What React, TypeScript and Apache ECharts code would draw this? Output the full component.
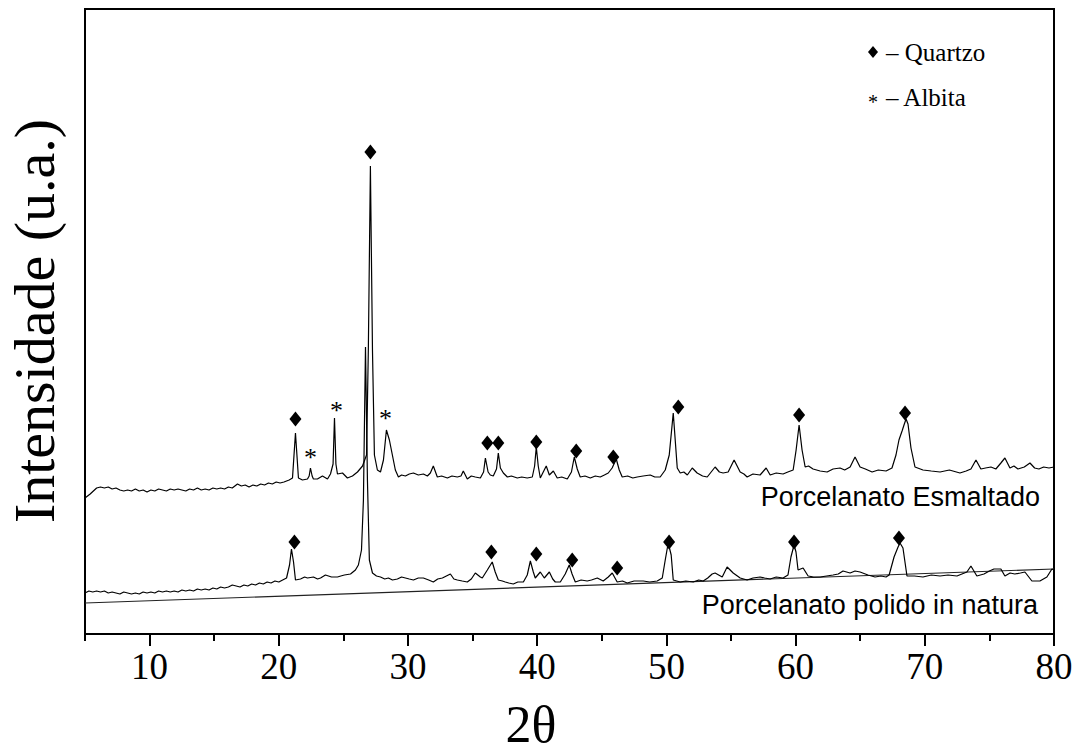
import React, { useEffect, useRef } from "react";
import * as echarts from "echarts";

// 2θ axis ticks
const xMajorTicks = [10, 20, 30, 40, 50, 60, 70, 80];
const xMinorTicks = [5, 15, 25, 35, 45, 55, 65, 75];

// Porcelanato Esmaltado pattern [2θ, intensity (a.u., offset)]
const esmaltado: [number, number][] = [
  [5.0, 136], [5.4, 140], [5.9, 146], [6.2, 147], [6.5, 146], [6.8, 147], [7.1, 145], [7.4, 146],
  [7.7, 144], [8.0, 143], [8.3, 144], [8.6, 143], [8.9, 145], [9.2, 143], [9.5, 144], [9.8, 142],
  [10.1, 144], [10.4, 143], [10.7, 145], [11.0, 144], [11.3, 143], [11.6, 145], [11.9, 144], [12.2, 145],
  [12.5, 144], [12.8, 143], [13.1, 145], [13.4, 144], [13.7, 146], [14.0, 144], [14.3, 145], [14.6, 144],
  [14.9, 146], [15.2, 145], [15.5, 146], [15.8, 145], [16.1, 147], [16.4, 146], [16.8, 150], [17.1, 148],
  [17.4, 149], [17.7, 147], [18.0, 149], [18.3, 148], [18.6, 150], [18.9, 149], [19.2, 151], [19.5, 150],
  [19.8, 152], [20.1, 151], [20.4, 152], [20.8, 154], [21.06, 156], [21.29, 201], [21.52, 156], [21.83, 154],
  [22.22, 155], [22.35, 158], [22.45, 166], [22.58, 158], [22.68, 155], [22.99, 155], [23.38, 158], [23.77, 155],
  [24.0, 160], [24.2, 170], [24.31, 216], [24.42, 170], [24.54, 160], [24.93, 161], [25.31, 156], [25.7, 158],
  [26.09, 162], [26.48, 168], [26.79, 179], [26.93, 284], [27.09, 468], [27.25, 284], [27.4, 179], [27.63, 164],
  [27.87, 162], [28.1, 174], [28.33, 204], [28.56, 194], [28.79, 179], [29.02, 164], [29.26, 157], [29.5, 159],
  [29.8, 158], [30.1, 160], [30.42, 161], [30.8, 159], [31.19, 160], [31.5, 158], [31.73, 161], [31.96, 168],
  [32.27, 157], [32.6, 158], [33.05, 156], [33.4, 158], [33.82, 157], [34.1, 158], [34.28, 163], [34.59, 155],
  [34.9, 158], [35.21, 157], [35.6, 156], [35.85, 162], [35.99, 176], [36.2, 162], [36.37, 159], [36.6, 158],
  [36.85, 165], [36.99, 181], [37.15, 166], [37.38, 161], [37.69, 157], [38.0, 158], [38.46, 156], [38.8, 157],
  [39.23, 156], [39.62, 157], [39.8, 168], [39.93, 187], [40.08, 168], [40.24, 156], [40.7, 168], [40.94, 159],
  [41.25, 163], [41.55, 156], [41.9, 157], [42.33, 155], [42.65, 162], [42.87, 177], [43.1, 165], [43.33, 157],
  [43.7, 158], [44.11, 156], [44.5, 158], [44.88, 157], [45.2, 159], [45.5, 161], [45.8, 166], [46.12, 175],
  [46.35, 164], [46.58, 157], [47.0, 158], [47.4, 156], [47.74, 157], [48.2, 158], [48.75, 159], [49.1, 157],
  [49.52, 157], [49.91, 164], [50.22, 179], [50.53, 221], [50.84, 166], [51.07, 161], [51.35, 162], [51.62, 159],
  [52.0, 166], [52.38, 161], [52.8, 158], [53.16, 157], [53.77, 167], [54.1, 162], [54.39, 161], [54.78, 162],
  [55.24, 174], [55.71, 162], [56.0, 160], [56.25, 157], [56.7, 160], [57.25, 159], [57.72, 166], [58.03, 159],
  [58.5, 161], [59.03, 160], [59.4, 162], [59.81, 164], [60.04, 184], [60.27, 209], [60.5, 184], [60.74, 167],
  [61.0, 168], [61.35, 165], [61.9, 163], [62.44, 162], [62.9, 165], [63.44, 166], [63.8, 164], [64.22, 167],
  [64.6, 177], [64.99, 167], [65.4, 165], [65.92, 162], [66.4, 164], [67.0, 163], [67.46, 166], [67.77, 179],
  [68.0, 194], [68.24, 203], [68.39, 209], [68.55, 215], [68.7, 210], [68.93, 186], [69.24, 167], [69.86, 164],
  [70.5, 163], [71.18, 162], [71.9, 164], [72.72, 161], [73.2, 163], [73.57, 165], [73.96, 174], [74.34, 165],
  [74.7, 166], [75.12, 167], [75.5, 165], [75.89, 171], [76.2, 176], [76.59, 166], [76.9, 168], [77.21, 165],
  [77.7, 167], [78.14, 171], [78.5, 166], [78.83, 165], [79.2, 167], [79.61, 166], [80.0, 167],
];

// Porcelanato polido in natura pattern [2θ, intensity (a.u.)]
const polido: [number, number][] = [
  [5.0, 41], [5.3, 43], [5.6, 42], [5.9, 43], [6.2, 42], [6.5, 43], [6.8, 41], [7.1, 42], [7.4, 41],
  [7.7, 40], [8.0, 42], [8.3, 41], [8.6, 40], [8.9, 41], [9.2, 40], [9.5, 42], [9.8, 41], [10.1, 42],
  [10.4, 41], [10.7, 43], [11.0, 42], [11.3, 43], [11.6, 42], [11.9, 43], [12.2, 42], [12.5, 44], [12.8, 43],
  [13.1, 44], [13.4, 43], [13.7, 45], [14.0, 44], [14.3, 45], [14.6, 44], [14.9, 46], [15.2, 45], [15.5, 47],
  [15.8, 46], [16.1, 47], [16.4, 49], [16.7, 48], [17.0, 47], [17.3, 49], [17.6, 48], [17.9, 50], [18.2, 49],
  [18.5, 51], [18.8, 50], [19.1, 52], [19.4, 51], [19.7, 53], [20.0, 52], [20.3, 54], [20.6, 56], [20.83, 69],
  [20.98, 85], [21.14, 72], [21.29, 54], [21.68, 55], [22.0, 57], [22.22, 56], [22.68, 57], [23.0, 55],
  [23.23, 56], [23.61, 59], [24.08, 57], [24.54, 57], [24.8, 58], [25.08, 59], [25.55, 60], [25.93, 64],
  [26.16, 69], [26.4, 84], [26.55, 134], [26.71, 287], [26.86, 154], [27.01, 74], [27.25, 61], [27.56, 58],
  [27.87, 57], [28.2, 55], [28.48, 56], [28.8, 54], [29.18, 55], [29.5, 57], [29.8, 56], [30.1, 55],
  [30.42, 54], [30.8, 56], [31.19, 56], [31.6, 54], [31.96, 52], [32.3, 55], [32.66, 56], [33.28, 60],
  [33.55, 55], [33.82, 54], [34.2, 53], [34.59, 52], [34.9, 55], [35.21, 61], [35.6, 57], [35.75, 56],
  [36.14, 64], [36.52, 72], [36.75, 62], [36.99, 54], [37.3, 53], [37.53, 52], [37.8, 51], [38.15, 50],
  [38.5, 52], [38.93, 52], [39.23, 59], [39.47, 73], [39.7, 62], [39.85, 56], [40.24, 62], [40.55, 56],
  [40.94, 62], [41.2, 55], [41.4, 52], [41.79, 52], [42.17, 60], [42.48, 69], [42.7, 60], [42.95, 52],
  [43.4, 54], [43.87, 53], [44.2, 54], [44.65, 56], [45.11, 53], [45.5, 57], [45.81, 61], [46.19, 52],
  [46.6, 53], [46.97, 51], [47.5, 53], [48.21, 53], [48.7, 52], [49.29, 53], [49.68, 56], [49.91, 74],
  [50.14, 91], [50.37, 79], [50.53, 54], [51.07, 52], [51.5, 53], [52.08, 52], [52.5, 54], [52.85, 53],
  [53.2, 56], [53.54, 60], [53.77, 61], [54.32, 57], [54.7, 67], [55.17, 61], [55.71, 56], [56.25, 54],
  [56.7, 56], [57.25, 57], [57.6, 56], [58.03, 55], [58.5, 57], [59.03, 56], [59.41, 59], [59.64, 77],
  [59.88, 89], [60.03, 82], [60.19, 64], [60.58, 66], [60.97, 58], [61.4, 57], [61.9, 57], [62.4, 58],
  [62.9, 59], [63.3, 60], [63.67, 63], [64.22, 61], [64.6, 63], [64.99, 62], [65.6, 59], [66.15, 57],
  [66.6, 58], [67.0, 57], [67.24, 59], [67.62, 77], [67.93, 87], [68.08, 91], [68.31, 86], [68.62, 58],
  [69.2, 58], [69.86, 57], [70.5, 59], [71.18, 58], [71.8, 59], [72.49, 58], [73.26, 62], [73.57, 68],
  [74.03, 58], [74.58, 60], [75.0, 63], [75.35, 65], [75.89, 65], [76.2, 58], [76.6, 61], [76.97, 60],
  [77.4, 61], [77.75, 62], [78.29, 53], [78.91, 53], [79.45, 57], [79.84, 65], [80.0, 64],
];

// straight background line under the polido pattern
const polidoBackground: [number, number][] = [[5, 31], [80, 65]];

// Quartz (◆) peak markers
const quartzoEsmaltado: [number, number][] = [
  [21.29, 215], [27.09, 482], [36.14, 191], [36.99, 191], [39.93, 192], [43.02, 183],
  [45.89, 177], [50.92, 227], [60.27, 219], [68.47, 221],
];
const quartzoPolido: [number, number][] = [
  [21.21, 92], [36.45, 82], [39.93, 80], [42.71, 74], [46.19, 66], [50.21, 92], [59.88, 92], [68.0, 96],
];
// Albite (*) peak markers
const albita: [number, number][] = [[22.45, 181], [24.46, 228], [28.25, 220]];

const seriesLabels = ["Porcelanato Esmaltado", "Porcelanato polido in natura"];
const legendLabels = ["– Quartzo", "– Albita"];

export default function App() {
  const ref = useRef<HTMLDivElement>(null);
  useEffect(() => {
    if (!ref.current) return;
    const chart = echarts.init(ref.current, undefined, { renderer: "svg" });
    const serif = "Liberation Serif, Times New Roman, serif";
    const sans = "Liberation Sans, Arial, sans-serif";
    chart.setOption({
      animation: false,
      backgroundColor: "#ffffff",
      grid: {
        left: 85, right: 22, top: 9, bottom: 117,
        show: true, borderColor: "#000", borderWidth: 2, backgroundColor: "transparent",
      },
      xAxis: [
        {
          type: "value", min: 5, max: 80,
          axisLine: { show: true, lineStyle: { color: "#000", width: 2 } },
          axisTick: { show: true, customValues: xMajorTicks, length: 12, lineStyle: { color: "#000", width: 2 } },
          axisLabel: {
            show: true, customValues: xMajorTicks, margin: 14,
            color: "#000", fontFamily: serif, fontSize: 37,
          },
          splitLine: { show: false },
        },
        {
          type: "value", min: 5, max: 80, gridIndex: 0, position: "bottom",
          axisLine: { show: false },
          axisTick: { show: true, customValues: xMinorTicks, length: 7, lineStyle: { color: "#000", width: 2 } },
          axisLabel: { show: false },
          splitLine: { show: false },
        },
      ],
      yAxis: {
        type: "value", min: 0, max: 625,
        axisLine: { show: true, lineStyle: { color: "#000", width: 2 } },
        axisTick: { show: false }, axisLabel: { show: false }, splitLine: { show: false },
      },
      series: [
        {
          type: "line", data: polidoBackground, symbol: "none", silent: true,
          lineStyle: { color: "#222", width: 1.2 },
        },
        {
          type: "line", name: seriesLabels[1], data: polido, symbol: "none",
          lineStyle: { color: "#000", width: 1.2 },
        },
        {
          type: "line", name: seriesLabels[0], data: esmaltado, symbol: "none",
          lineStyle: { color: "#000", width: 1.2 },
        },
        {
          type: "scatter", data: quartzoEsmaltado, symbol: "diamond", symbolSize: [12, 15],
          itemStyle: { color: "#000", opacity: 1 },
        },
        {
          type: "scatter", data: quartzoPolido, symbol: "diamond", symbolSize: [12, 15],
          itemStyle: { color: "#000", opacity: 1 },
        },
        {
          type: "scatter", data: albita, symbol: "circle", symbolSize: 0,
          itemStyle: { color: "#000", opacity: 1 },
          label: {
            show: true, position: "inside", formatter: "*", offset: [0, 4],
            color: "#000", opacity: 1, fontFamily: serif, fontSize: 26,
          },
        },
      ],
      graphic: [
        {
          type: "text", x: 34, y: 321, rotation: Math.PI / 2,
          style: {
            text: "Intensidade (u.a.)", font: `58px ${serif}`, fill: "#000",
            textAlign: "center", textVerticalAlign: "middle",
          },
        },
        {
          type: "text", x: 531, y: 724,
          style: {
            text: "2θ", font: `52px ${serif}`, fill: "#000",
            textAlign: "center", textVerticalAlign: "middle",
          },
        },
        {
          type: "polygon",
          shape: { points: [[873, 46], [878, 52], [873, 58], [868, 52]] },
          style: { fill: "#000" },
        },
        {
          type: "text", x: 886, y: 52,
          style: { text: legendLabels[0], font: `25px ${serif}`, fill: "#000", textAlign: "left", textVerticalAlign: "middle" },
        },
        {
          type: "text", x: 873, y: 102,
          style: { text: "*", font: `20px ${serif}`, fill: "#000", textAlign: "center", textVerticalAlign: "middle" },
        },
        {
          type: "text", x: 886, y: 97,
          style: { text: legendLabels[1], font: `25px ${serif}`, fill: "#000", textAlign: "left", textVerticalAlign: "middle" },
        },
        {
          type: "text", x: 1040, y: 497,
          style: { text: seriesLabels[0], font: `27px ${sans}`, fill: "#000", textAlign: "right", textVerticalAlign: "middle" },
        },
        {
          type: "text", x: 1038, y: 605,
          style: { text: seriesLabels[1], font: `27px ${sans}`, fill: "#000", textAlign: "right", textVerticalAlign: "middle" },
        },
      ],
    });
    return () => chart.dispose();
  }, []);
  return <div ref={ref} style={{ position: "fixed", left: 0, top: 0, width: 1076, height: 751 }} />;
}
